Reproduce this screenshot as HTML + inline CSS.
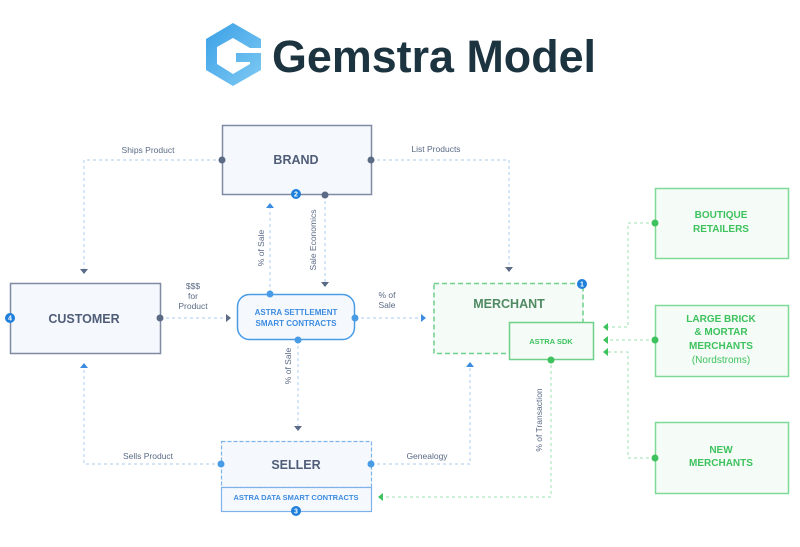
<!DOCTYPE html>
<html><head><meta charset="utf-8"><style>
html,body{margin:0;padding:0;background:#fff;}
svg{display:block;}
text{font-family:"Liberation Sans",sans-serif;}
</style></head><body>
<svg width="800" height="547" viewBox="0 0 800 547" xmlns="http://www.w3.org/2000/svg">
<defs>
<linearGradient id="g1" x1="0" y1="0" x2="1" y2="1"><stop offset="0" stop-color="#3aa0e6"/><stop offset="1" stop-color="#7fcaf3"/></linearGradient>
</defs>
<!-- logo -->
<g fill="url(#g1)">
<polygon points="233,23 261,39 261,48 250,48 233,38 217,47 217,64 233,74 250,64 250,62 236,62 236,53 261,53 261,70 233,86 206,70 206,39"/>
</g>
<text x="272" y="72" font-size="45" font-weight="bold" fill="#1c3340" textLength="324" lengthAdjust="spacingAndGlyphs">Gemstra Model</text>

<!-- connectors blue/gray dashed -->
<g fill="none" stroke="#a9ccf0" stroke-width="1" stroke-dasharray="3,3">
<polyline points="222,160 84,160 84,270"/>
<polyline points="371,160 509,160 509,268"/>
<line x1="270" y1="293" x2="270" y2="206"/>
<line x1="325" y1="195" x2="325" y2="283"/>
<line x1="160" y1="318" x2="226" y2="318"/>
<line x1="355" y1="318" x2="422" y2="318"/>
<line x1="298" y1="340" x2="298" y2="427"/>
<polyline points="221,464 84,464 84,366"/>
<polyline points="371,464 470,464 470,365"/>
</g>
<g fill="none" stroke="#9fe0b2" stroke-width="1" stroke-dasharray="3,3">
<polyline points="551,359 551,497 381,497"/>
<polyline points="655,223 628,223 628,327 606,327"/>
<line x1="655" y1="340" x2="606" y2="340"/>
<polyline points="655,458 628,458 628,352 606,352"/>
</g>
<!-- arrowheads -->
<g fill="#5b6a85">
<polygon points="80,269 88,269 84,274"/>
<polygon points="505,267 513,267 509,272"/>
<polygon points="321,282 329,282 325,287"/>
<polygon points="294,426 302,426 298,431"/>
<polygon points="226,314 226,322 231,318"/>
</g>
<g fill="#3d8be0">
<polygon points="266,208 274,208 270,203"/>
<polygon points="80,368 88,368 84,363"/>
<polygon points="466,367 474,367 470,362"/>
<polygon points="421,314 421,322 426,318"/>
</g>
<g fill="#3dc25e">
<polygon points="383,493 383,501 378,497"/>
<polygon points="608,323 608,331 603,327"/>
<polygon points="608,336 608,344 603,340"/>
<polygon points="608,348 608,356 603,352"/>
</g>

<!-- labels -->
<g fill="#5b6a85" font-size="8.5" text-anchor="middle">
<text x="148" y="153">Ships Product</text>
<text x="436" y="152">List Products</text>
<text x="193" y="289">$$$</text>
<text x="193" y="299">for</text>
<text x="193" y="309">Product</text>
<text x="387" y="298">% of</text>
<text x="387" y="308">Sale</text>
<text x="148" y="459">Sells Product</text>
<text x="427" y="459">Genealogy</text>
<text transform="translate(264,248) rotate(-90)">% of Sale</text>
<text transform="translate(316,240) rotate(-90)">Sale Economics</text>
<text transform="translate(291,366) rotate(-90)">% of Sale</text>
<text transform="translate(542,420) rotate(-90)">% of Transaction</text>
</g>

<!-- BRAND -->
<rect x="222.5" y="125.5" width="149" height="69" fill="#f5f8fc" stroke="#7f8ba3" stroke-width="1.5"/>
<text x="296" y="164" font-size="12.5" font-weight="bold" fill="#4f5d78" text-anchor="middle">BRAND</text>
<!-- CUSTOMER -->
<rect x="10.5" y="283.5" width="150" height="70" fill="#f5f8fc" stroke="#7f8ba3" stroke-width="1.5"/>
<text x="84" y="323" font-size="12.5" font-weight="bold" fill="#4f5d78" text-anchor="middle">CUSTOMER</text>
<!-- settlement -->
<rect x="237.5" y="294.5" width="117" height="45" rx="12" fill="#f5f9fe" stroke="#4a9be6" stroke-width="1.5"/>
<text x="296" y="315" font-size="8" font-weight="bold" fill="#3d8be0" text-anchor="middle">ASTRA SETTLEMENT</text>
<text x="296" y="326" font-size="8" font-weight="bold" fill="#3d8be0" text-anchor="middle">SMART CONTRACTS</text>
<!-- MERCHANT -->
<rect x="434" y="283.5" width="149" height="70" fill="#f5fbf6" stroke="#6fd08a" stroke-width="1.5" stroke-dasharray="5,3"/>
<text x="509" y="308" font-size="12.5" font-weight="bold" fill="#4f8a62" text-anchor="middle">MERCHANT</text>
<rect x="509.5" y="322.5" width="84" height="37" fill="#f5fbf6" stroke="#6fd08a" stroke-width="1.5"/>
<text x="551" y="344" font-size="7.5" font-weight="bold" fill="#3dc25e" text-anchor="middle">ASTRA SDK</text>
<!-- SELLER -->
<rect x="221.5" y="441.5" width="150" height="46" fill="#f5f9fe" stroke="#7fb2e8" stroke-width="1.2" stroke-dasharray="4,2"/>
<text x="296" y="469" font-size="12.5" font-weight="bold" fill="#4f5d78" text-anchor="middle">SELLER</text>
<rect x="221.5" y="487.5" width="150" height="24" fill="#f5f9fe" stroke="#7fb2e8" stroke-width="1.2"/>
<text x="296" y="500" font-size="7.5" font-weight="bold" fill="#3d8be0" text-anchor="middle">ASTRA DATA SMART CONTRACTS</text>
<!-- right boxes -->
<g fill="#f5fbf6" stroke="#7fd997" stroke-width="1.5">
<rect x="655.5" y="188.5" width="133" height="70"/>
<rect x="655.5" y="305.5" width="133" height="71"/>
<rect x="655.5" y="422.5" width="133" height="71"/>
</g>
<g fill="#3dc25e" font-size="10" font-weight="bold" text-anchor="middle">
<text x="721" y="218">BOUTIQUE</text>
<text x="721" y="232">RETAILERS</text>
<text x="721" y="322">LARGE BRICK</text>
<text x="721" y="335">&amp; MORTAR</text>
<text x="721" y="349">MERCHANTS</text>
<text x="721" y="363" font-weight="normal">(Nordstroms)</text>
<text x="721" y="453">NEW</text>
<text x="721" y="466">MERCHANTS</text>
</g>

<!-- port dots -->
<g fill="#5b6a85">
<circle cx="222" cy="160" r="3.5"/><circle cx="371" cy="160" r="3.5"/>
<circle cx="325" cy="195" r="3.5"/><circle cx="160" cy="318" r="3.5"/>
</g>
<g fill="#4a9be6">
<circle cx="270" cy="294" r="3.5"/><circle cx="355" cy="318" r="3.5"/><circle cx="298" cy="340" r="3.5"/>
<circle cx="221" cy="464" r="3.5"/><circle cx="371" cy="464" r="3.5"/>
</g>
<g fill="#3dc25e">
<circle cx="551" cy="360" r="3.5"/><circle cx="655" cy="223" r="3.5"/><circle cx="655" cy="340" r="3.5"/><circle cx="655" cy="458" r="3.5"/>
</g>
<!-- badges -->
<g fill="#1f7fdb">
<circle cx="582" cy="284" r="5"/><circle cx="296" cy="194" r="5"/><circle cx="296" cy="511" r="5"/><circle cx="10" cy="318" r="5"/>
</g>
<g fill="#fff" font-size="7" font-weight="bold" text-anchor="middle">
<text x="582" y="286.5">1</text><text x="296" y="196.5">2</text><text x="296" y="513.5">3</text><text x="10" y="320.5">4</text>
</g>
</svg>
</body></html>
